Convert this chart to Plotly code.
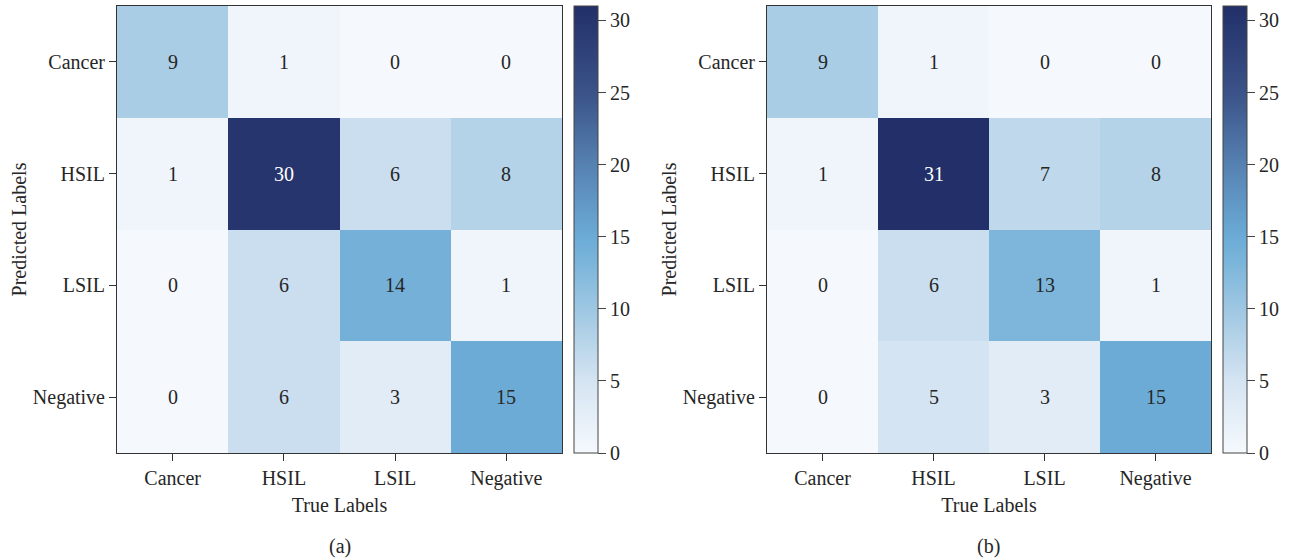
import plotly.graph_objects as go

labels = ["Cancer", "HSIL", "LSIL", "Negative"]
# rows = predicted, columns = true
cm_a = [
    [9, 1, 0, 0],
    [1, 30, 6, 8],
    [0, 6, 14, 1],
    [0, 6, 3, 15],
]
cm_b = [
    [9, 1, 0, 0],
    [1, 31, 7, 8],
    [0, 6, 13, 1],
    [0, 5, 3, 15],
]
cbar_ticks = [0, 5, 10, 15, 20, 25, 30]
zmax = 31

W, H = 1298, 560
FONT = "Liberation Serif"
TXT = "#262626"
FS = 20

blues = [
    [0.0, "#f5f9fd"], [0.16, "#d5e4f2"], [0.29, "#a9cde5"], [0.43, "#7ab4da"],
    [0.485, "#6babd6"], [0.65, "#5580b0"], [0.8, "#3b5489"], [1.0, "#222f68"],
]

def px_x(p):
    return p / W

def px_y(p):
    return 1 - p / H

panels = [
    dict(z=cm_a, x0=117, x1=562, cb=574, tag="(a)", xa="x", ya="y"),
    dict(z=cm_b, x0=767, x1=1211, cb=1223, tag="(b)", xa="x2", ya="y2"),
]
top, bot = 6, 453

fig = go.Figure()
annotations = []
for i, p in enumerate(panels):
    fig.add_trace(go.Heatmap(
        z=p["z"], x=labels, y=labels, xaxis=p["xa"], yaxis=p["ya"],
        colorscale=blues, zmin=0, zmax=zmax, xgap=0, ygap=0,
        showscale=True, hoverinfo="skip",
        colorbar=dict(
            x=px_x(p["cb"]), xanchor="left", xref="paper",
            y=px_y((top + bot) / 2), yanchor="middle",
            len=(bot - top) / H, lenmode="fraction", thickness=24,
            thicknessmode="pixels", outlinewidth=1, outlinecolor="#444",
            tickvals=cbar_ticks, ticks="outside", ticklen=8, tickcolor="#444",
            tickfont=dict(family=FONT, size=FS, color=TXT), xpad=0, ypad=0,
        ),
    ))
    for r, row in enumerate(p["z"]):
        for c, v in enumerate(row):
            annotations.append(dict(
                x=labels[c], y=labels[r], xref=p["xa"], yref=p["ya"],
                text=str(v), showarrow=False,
                font=dict(family=FONT, size=FS,
                          color="white" if v > 0.7 * zmax else TXT),
            ))
    annotations.append(dict(
        x=(px_x(p["x0"]) + px_x(p["x1"])) / 2, y=px_y(546), xref="paper", yref="paper",
        xanchor="center", yanchor="middle",
        text=p["tag"], showarrow=False, font=dict(family=FONT, size=FS, color=TXT),
    ))

axis_common = dict(
    showline=True, linecolor="#333", linewidth=1, mirror=True, ticks="outside",
    ticklen=7, tickcolor="#333", tickfont=dict(family=FONT, size=FS, color=TXT),
    showgrid=False, zeroline=False, automargin=False,
)
layout = dict(
    width=W, height=H, margin=dict(l=0, r=0, t=0, b=0, autoexpand=False),
    paper_bgcolor="white", plot_bgcolor="white",
    font=dict(family=FONT, size=FS, color=TXT),
    annotations=annotations,
)
for i, p in enumerate(panels):
    sfx = "" if i == 0 else "2"
    layout["xaxis" + sfx] = dict(
        axis_common, domain=[px_x(p["x0"]), px_x(p["x1"])], anchor="y" + sfx,
        title=dict(text="True Labels", font=dict(family=FONT, size=FS, color=TXT), standoff=8),
    )
    layout["yaxis" + sfx] = dict(
        axis_common, domain=[px_y(bot), px_y(top)], anchor="x" + sfx,
        autorange="reversed",
        title=dict(text="Predicted Labels", font=dict(family=FONT, size=FS, color=TXT), standoff=0),
    )

fig.update_layout(**layout)
fig.write_html("out.html", config={"displayModeBar": False},
               post_script="document.body.style.margin='0';")
